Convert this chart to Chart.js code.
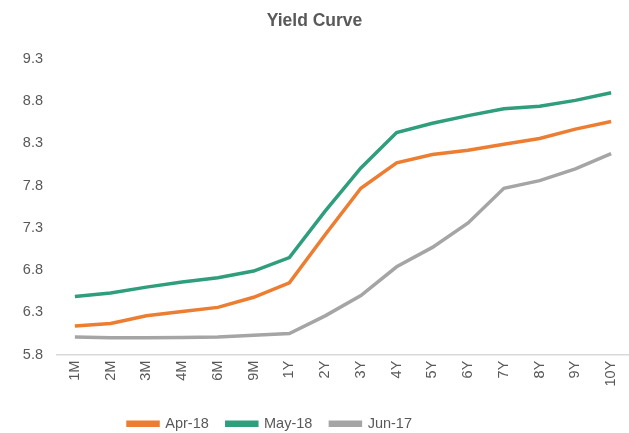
<!DOCTYPE html>
<html lang="en">
<head>
<meta charset="UTF-8">
<title>Yield Curve</title>
<script src="https://cdn.jsdelivr.net/npm/chart.js"></script>
<style>
  html, body { margin: 0; padding: 0; background: #fff; }
  #wrap { width: 629px; height: 433px; }
</style>
</head>
<body>
<div id="wrap"><canvas id="yieldChart"></canvas></div>
<script>
// tenors on the x axis
const tenors = ['1M', '2M', '3M', '4M', '6M', '9M', '1Y', '2Y', '3Y', '4Y', '5Y', '6Y', '7Y', '8Y', '9Y', '10Y'];

// yields
const apr18 = [6.14, 6.17, 6.26, 6.31, 6.36, 6.48, 6.65, 7.22, 7.77, 8.07, 8.17, 8.22, 8.29, 8.36, 8.47, 8.56];
const may18 = [6.49, 6.53, 6.60, 6.66, 6.71, 6.79, 6.95, 7.50, 8.01, 8.43, 8.54, 8.63, 8.71, 8.74, 8.81, 8.90];
const jun17 = [6.01, 6.00, 6.00, 6.005, 6.01, 6.03, 6.05, 6.26, 6.50, 6.84, 7.07, 7.36, 7.77, 7.86, 8.00, 8.18];

const yTicks = [5.8, 6.3, 6.8, 7.3, 7.8, 8.3, 8.8, 9.3];

const FONT = 'Liberation Sans, Arial, sans-serif';

function series(label, data, color) {
    return {
        label: label,
        data: data,
        borderColor: color,
        backgroundColor: color,
        borderWidth: 3.5,
        pointRadius: 0,
        tension: 0,
        fill: false
    };
}

// the legend sits lower and a bit left of centre in the original
const legendShift = {
    id: 'legendShift',
    afterLayout(chart) {
        const lg = chart.legend;
        lg.right -= 89;
        lg.top += 10;
        lg.bottom += 10;
    }
};

new Chart(document.getElementById('yieldChart'), {
    type: 'line',
    data: {
        labels: tenors,
        datasets: [
            series('Apr-18', apr18, '#ED7D31'),
            series('May-18', may18, '#2E9E7C'),
            series('Jun-17', jun17, '#A5A5A5')
        ]
    },
    plugins: [legendShift],
    options: {
        responsive: true,
        maintainAspectRatio: false,
        animation: false,
        layout: { padding: { left: 0, right: 0, top: 4, bottom: 2 } },
        plugins: {
            title: {
                display: true,
                text: 'Yield Curve',
                color: '#595959',
                font: { family: FONT, size: 17.5, weight: 'bold' },
                padding: { top: 7, bottom: 27 }
            },
            legend: {
                position: 'bottom',
                labels: {
                    color: '#595959',
                    font: { family: FONT, size: 14.5 },
                    boxWidth: 30,
                    boxHeight: 3,
                    padding: 18
                }
            },
            tooltip: { enabled: false }
        },
        scales: {
            x: {
                offset: true,
                grid: { display: false, drawTicks: false },
                border: { color: '#D9D9D9', width: 1.5 },
                afterFit: scale => {
                    scale.paddingLeft = 0;
                    scale.paddingRight = 0;
                    scale.height -= 4;
                },
                ticks: {
                    color: '#595959',
                    font: { family: FONT, size: 14.5 },
                    minRotation: 90,
                    maxRotation: 90,
                    padding: 6
                }
            },
            y: {
                min: 5.8,
                max: 9.3,
                afterBuildTicks: scale => { scale.ticks = yTicks.map(v => ({ value: v })); },
                afterFit: scale => { scale.width = 57; },
                grid: { display: false, drawTicks: false },
                border: { display: false },
                ticks: {
                    color: '#595959',
                    font: { family: FONT, size: 14.5 },
                    padding: 14,
                    callback: v => v.toFixed(1)
                }
            }
        }
    }
});
</script>
</body>
</html>
